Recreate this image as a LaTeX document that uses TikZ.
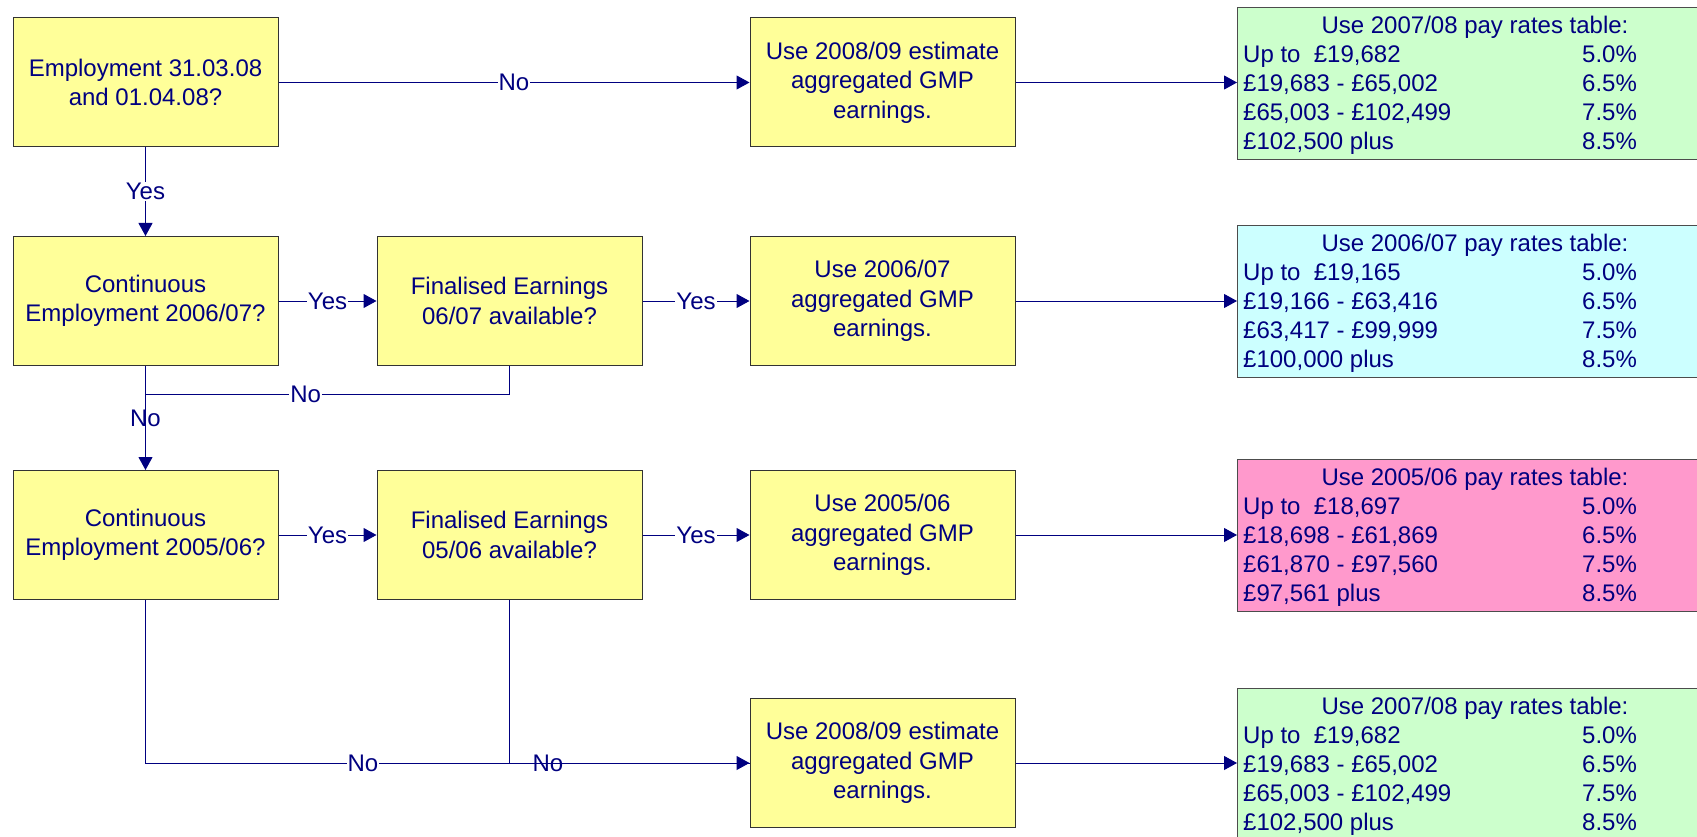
\documentclass[tikz,border=0pt]{standalone}
\usepackage{fontspec}
\setmainfont{Liberation Sans}
\usetikzlibrary{arrows.meta,calc}
\definecolor{navy}{RGB}{0,0,128}
\definecolor{boxyellow}{RGB}{255,255,153}
\definecolor{tgreen}{RGB}{204,255,204}
\definecolor{tcyan}{RGB}{204,255,255}
\definecolor{tpink}{RGB}{255,153,204}
\newcommand\ratetable[8]{%
  \node[tbl, fill=#3] (#1) at (1237,#2) {};
  \node[ttext, anchor=base] (#1t) at ($(#1.north west)+(238,26.5)$) {Use #4 pay rates table:};
  \node[ttext, anchor=base west] (#1a) at ($(#1.north west)+(6,55.5)$) {#5};
  \node[ttext, anchor=base west] (#1b) at ($(#1.north west)+(6,84.5)$) {#6};
  \node[ttext, anchor=base west] (#1c) at ($(#1.north west)+(6,113.5)$) {#7};
  \node[ttext, anchor=base west] (#1d) at ($(#1.north west)+(6,142.5)$) {#8};
  \node[ttext, anchor=base west] (#1ap) at ($(#1.north west)+(345,55.5)$) {5.0\%};
  \node[ttext, anchor=base west] (#1bp) at ($(#1.north west)+(345,84.5)$) {6.5\%};
  \node[ttext, anchor=base west] (#1cp) at ($(#1.north west)+(345,113.5)$) {7.5\%};
  \node[ttext, anchor=base west] (#1dp) at ($(#1.north west)+(345,142.5)$) {8.5\%};
}
\begin{document}
\begin{tikzpicture}[x=1pt,y=-1pt,
  box/.style={draw=black!80, fill=boxyellow, line width=1pt, minimum width=265pt,
    minimum height=129pt, align=center, text=navy,
    font=\fontsize{24}{29.5}\selectfont, inner sep=0pt},
  tbl/.style={draw=black!70, line width=1pt, minimum width=476pt, minimum height=152pt,
    anchor=north west, inner sep=0pt},
  conn/.style={draw=navy, line width=1pt},
  arr/.style={conn, -{Triangle[length=13pt,width=14pt]}},
  lbl/.style={text=navy, font=\fontsize{24}{29}\selectfont, inner sep=1pt},
  lblw/.style={lbl, fill=white},
  ttext/.style={text=navy, font=\fontsize{24}{29}\selectfont, inner sep=0pt},
]
\useasboundingbox (0,0) rectangle (1697,837);

% decision / action boxes
\node[box] (A) at (145.5,82.5) {Employment 31.03.08\\and 01.04.08?};
\node[box] (B) at (882.5,82.5) {Use 2008/09 estimate\\aggregated GMP\\earnings.};
\node[box] (C) at (145.5,301) {Continuous\\Employment 2006/07?};
\node[box] (D) at (509.5,301) {Finalised Earnings\\06/07 available?};
\node[box] (E) at (882.5,301) {Use 2006/07\\aggregated GMP\\earnings.};
\node[box] (F) at (145.5,535) {Continuous\\Employment 2005/06?};
\node[box] (G) at (509.5,535) {Finalised Earnings\\05/06 available?};
\node[box] (H) at (882.5,535) {Use 2005/06\\aggregated GMP\\earnings.};
\node[box] (I) at (882.5,763) {Use 2008/09 estimate\\aggregated GMP\\earnings.};

% pay rate tables
\ratetable{T1}{7}{tgreen}{2007/08}{Up to~~\pounds19,682}{\pounds19,683 - \pounds65,002}{\pounds65,003 - \pounds102,499}{\pounds102,500 plus}
\ratetable{T2}{225}{tcyan}{2006/07}{Up to~~\pounds19,165}{\pounds19,166 - \pounds63,416}{\pounds63,417 - \pounds99,999}{\pounds100,000 plus}
\ratetable{T3}{459}{tpink}{2005/06}{Up to~~\pounds18,697}{\pounds18,698 - \pounds61,869}{\pounds61,870 - \pounds97,560}{\pounds97,561 plus}
\ratetable{T4}{688}{tgreen}{2007/08}{Up to~~\pounds19,682}{\pounds19,683 - \pounds65,002}{\pounds65,003 - \pounds102,499}{\pounds102,500 plus}

% connectors
\draw[arr] (A) -- node[lblw]{No} (B);
\draw[arr] (B.east) -- (B.east -| T1.west);
\draw[arr] (A) -- node[lblw]{Yes} (C);
\draw[arr] (C) -- node[lblw]{Yes} (D);
\draw[arr] (D) -- node[lblw]{Yes} (E);
\draw[arr] (E.east) -- (E.east -| T2.west);
\coordinate (j1) at ([yshift=-28pt]C.south);
\draw[conn] (D.south) |- node[lblw, pos=0.78]{No} (j1);
\draw[arr] (C) -- node[lbl]{No} (F);
\draw[arr] (F) -- node[lblw]{Yes} (G);
\draw[arr] (G) -- node[lblw]{Yes} (H);
\draw[arr] (H.east) -- (H.east -| T3.west);
\draw[arr] (F.south) |- node[lblw, pos=0.68]{No} (I.west);
\draw[conn] (G.south) |- node[lbl, pos=0.58]{No} (I.west);
\draw[arr] (I.east) -- (I.east -| T4.west);
\end{tikzpicture}
\end{document}
